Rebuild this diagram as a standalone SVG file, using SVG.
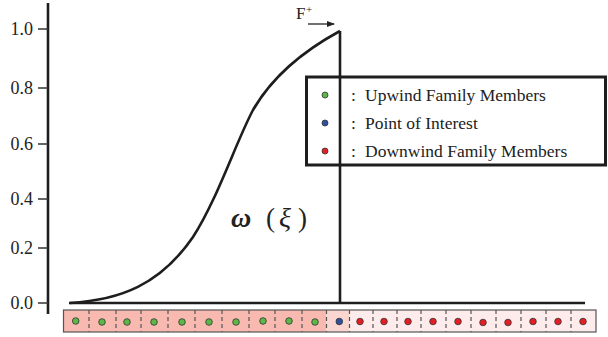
<svg xmlns="http://www.w3.org/2000/svg" width="608" height="337" viewBox="0 0 608 337">
<style>
.tick{stroke:#333;stroke-width:1.5}
.lbl{font-family:"Liberation Serif","Times New Roman",serif;font-size:18px;fill:#222}
.leg{font-family:"Liberation Serif","Times New Roman",serif;font-size:17.5px;fill:#222}
.ax{stroke:#1e1e1e;stroke-width:2.6;fill:none}
.div{stroke:#555;stroke-width:1.2;stroke-dasharray:4,3}
.g{fill:#5cb648;stroke:#333;stroke-width:0.8}
.b{fill:#2f4f9f;stroke:#333;stroke-width:0.8}
.r{fill:#e41e25;stroke:#333;stroke-width:0.8}
</style>
<defs>
<marker id="ah" markerWidth="8" markerHeight="6" refX="7" refY="3" orient="auto" markerUnits="userSpaceOnUse">
<path d="M0,0 L8,3 L0,6 z" fill="#222"/>
</marker>
</defs>
<rect width="608" height="337" fill="#fff"/>
<g id="yaxis">
<line class="ax" x1="48" y1="3" x2="48" y2="314"/>
<line class="tick" x1="38" y1="29" x2="48" y2="29"/>
<line class="tick" x1="38" y1="88" x2="48" y2="88"/>
<line class="tick" x1="38" y1="144" x2="48" y2="144"/>
<line class="tick" x1="38" y1="199" x2="48" y2="199"/>
<line class="tick" x1="38" y1="248" x2="48" y2="248"/>
<line class="tick" x1="38" y1="303" x2="48" y2="303"/>
<text class="lbl" x="33" y="35" text-anchor="end">1.0</text>
<text class="lbl" x="33" y="94" text-anchor="end">0.8</text>
<text class="lbl" x="33" y="150" text-anchor="end">0.6</text>
<text class="lbl" x="33" y="205" text-anchor="end">0.4</text>
<text class="lbl" x="33" y="254" text-anchor="end">0.2</text>
<text class="lbl" x="33" y="309" text-anchor="end">0.0</text>
</g>
<g id="strip">
<rect x="63.5" y="310" width="263" height="22" fill="#f8b9b1"/>
<rect x="326.5" y="310" width="23" height="22" fill="#fad6d1"/>
<rect x="349.5" y="310" width="246.5" height="22" fill="#fdeceb"/>
<g>
<line class="div" x1="89" y1="310" x2="89" y2="332"/>
<line class="div" x1="116" y1="310" x2="116" y2="332"/>
<line class="div" x1="141" y1="310" x2="141" y2="332"/>
<line class="div" x1="168" y1="310" x2="168" y2="332"/>
<line class="div" x1="195" y1="310" x2="195" y2="332"/>
<line class="div" x1="222" y1="310" x2="222" y2="332"/>
<line class="div" x1="249" y1="310" x2="249" y2="332"/>
<line class="div" x1="275" y1="310" x2="275" y2="332"/>
<line class="div" x1="302" y1="310" x2="302" y2="332"/>
<line class="div" x1="326.5" y1="310" x2="326.5" y2="332"/>
<line class="div" x1="349.5" y1="310" x2="349.5" y2="332"/>
<line class="div" x1="373" y1="310" x2="373" y2="332"/>
<line class="div" x1="397" y1="310" x2="397" y2="332"/>
<line class="div" x1="421" y1="310" x2="421" y2="332"/>
<line class="div" x1="446" y1="310" x2="446" y2="332"/>
<line class="div" x1="471" y1="310" x2="471" y2="332"/>
<line class="div" x1="496" y1="310" x2="496" y2="332"/>
<line class="div" x1="521" y1="310" x2="521" y2="332"/>
<line class="div" x1="546" y1="310" x2="546" y2="332"/>
<line class="div" x1="571" y1="310" x2="571" y2="332"/>
</g>
<rect x="63.5" y="310" width="532.5" height="22" fill="none" stroke="#555" stroke-width="1.2"/>
<g>
<circle class="g" cx="75.7" cy="321" r="3.3"/>
<circle class="g" cx="102" cy="322" r="3.3"/>
<circle class="g" cx="127" cy="322" r="3.3"/>
<circle class="g" cx="154" cy="322" r="3.3"/>
<circle class="g" cx="182" cy="322" r="3.3"/>
<circle class="g" cx="209" cy="322" r="3.3"/>
<circle class="g" cx="236" cy="322" r="3.3"/>
<circle class="g" cx="263" cy="321" r="3.3"/>
<circle class="g" cx="289" cy="321" r="3.3"/>
<circle class="g" cx="315" cy="322" r="3.3"/>
<circle class="b" cx="339.3" cy="321.5" r="3.3"/>
<circle class="r" cx="360" cy="321.5" r="3.3"/>
<circle class="r" cx="384" cy="321.5" r="3.3"/>
<circle class="r" cx="408" cy="321.5" r="3.3"/>
<circle class="r" cx="433" cy="321.5" r="3.3"/>
<circle class="r" cx="458" cy="321.5" r="3.3"/>
<circle class="r" cx="483" cy="322.5" r="3.3"/>
<circle class="r" cx="508" cy="322.5" r="3.3"/>
<circle class="r" cx="533" cy="321.5" r="3.3"/>
<circle class="r" cx="558" cy="321.5" r="3.3"/>
<circle class="r" cx="583" cy="321.5" r="3.3"/>
</g>
</g>
<g id="plot">
<line class="ax" x1="69" y1="303" x2="585" y2="303"/>
<line class="ax" x1="340" y1="31" x2="340" y2="303"/>
<path class="ax" d="M70,303 C120,300 160,285 193,237 C217,200 236,142 253,110 C272,77 305,50 340,31"/>
<text x="231" y="227" font-family="Liberation Serif,serif" font-style="italic" font-weight="bold" font-size="28" fill="#222">ω</text>
<text x="266" y="227" font-family="Liberation Serif,serif" font-size="27" fill="#222">(</text>
<text x="279" y="227" font-family="Liberation Serif,serif" font-style="italic" font-size="28" fill="#222">ξ</text>
<text x="298" y="227" font-family="Liberation Serif,serif" font-size="27" fill="#222">)</text>
</g>
<g id="force">
<text x="296" y="19" font-family="Liberation Serif,serif" font-size="17" fill="#222">F</text>
<text x="306" y="13" font-family="Liberation Serif,serif" font-size="11" fill="#222">+</text>
<line x1="308" y1="24" x2="334" y2="24" stroke="#222" stroke-width="1.3" marker-end="url(#ah)"/>
</g>
<g id="legend">
<rect x="306.5" y="77" width="299" height="88" fill="none" stroke="#1e1e1e" stroke-width="3"/>
<circle class="g" cx="325" cy="95" r="3"/>
<circle class="b" cx="325" cy="123" r="3"/>
<circle class="r" cx="325" cy="151" r="3"/>
<text class="leg" x="351" y="101">:</text>
<text class="leg" x="351" y="129">:</text>
<text class="leg" x="351" y="157">:</text>
<text class="leg" x="365" y="101">Upwind Family Members</text>
<text class="leg" x="365" y="129">Point of Interest</text>
<text class="leg" x="365" y="157">Downwind Family Members</text>
</g>
</svg>
